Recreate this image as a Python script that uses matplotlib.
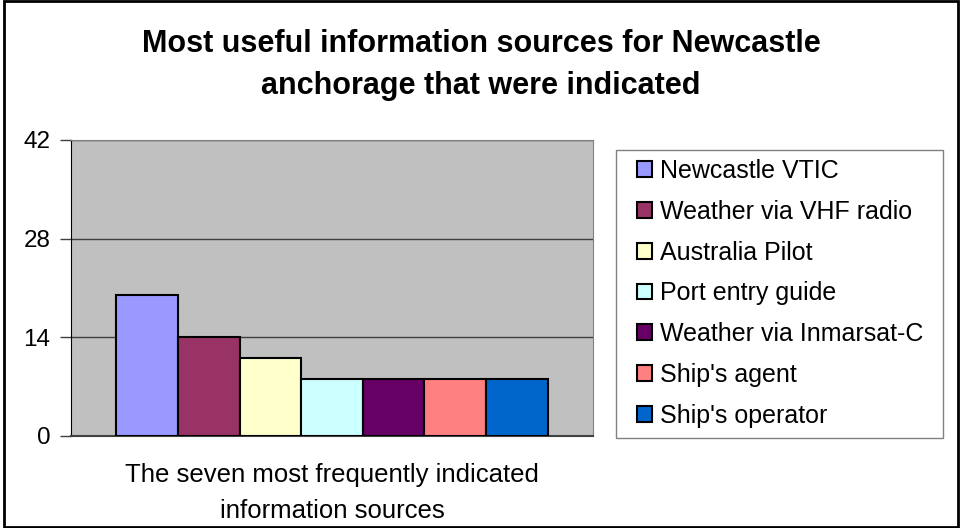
import matplotlib
matplotlib.use("Agg")
import matplotlib.pyplot as plt
from matplotlib.patches import Rectangle
import numpy as np

plt.rcParams['font.family'] = ['Liberation Sans', 'DejaVu Sans']

sources = ["Newcastle VTIC", "Weather via VHF radio", "Australia Pilot",
           "Port entry guide", "Weather via Inmarsat-C", "Ship's agent",
           "Ship's operator"]
counts = [20, 14, 11, 8, 8, 8, 8]
colors = ["#9999FF", "#993366", "#FFFFCC", "#CCFFFF", "#660066",
          "#FF8080", "#0066CC"]
y_ticks = [0, 14, 28, 42]

W, H = 960, 528
fig = plt.figure(figsize=(W / 100, H / 100), dpi=100)
# outer chart frame
fig.patches.append(Rectangle((0.004, 0.002), 0.994, 0.996, transform=fig.transFigure,
                             fill=False, edgecolor="black", linewidth=2))
# legend frame, drawn by hand so the box matches the reference
fig.patches.append(Rectangle((616 / W, 1 - 438 / H), 327 / W, 288 / H,
                             transform=fig.transFigure, fill=False,
                             edgecolor="#808080", linewidth=1))

ax = fig.add_axes([71 / W, 1 - 435.5 / H, 522 / W, 295.5 / H])
ax.set_facecolor("#C0C0C0")

width = 0.118
x = (np.arange(len(counts)) - (len(counts) - 1) / 2) * width
for xi, c, col, lab in zip(x, counts, colors, sources):
    ax.bar(xi, c, width=width, color=col, edgecolor="black", linewidth=1.5,
           label=lab, zorder=3)

ax.set_xlim(-0.5, 0.5)
ax.set_ylim(0, 42)
ax.set_yticks(y_ticks)
ax.set_yticklabels([str(t) for t in y_ticks], fontsize=17.5)
ax.set_xticks([])
ax.yaxis.grid(True, color="#404040", linewidth=1)
ax.tick_params(axis="y", length=8, width=1, color="#404040", pad=7)
for side in ["top", "right"]:
    ax.spines[side].set_color("#808080")
ax.spines["left"].set_color("black")
ax.spines["bottom"].set_color("#404040")
ax.spines["bottom"].set_linewidth(1.5)

ax.set_xlabel("The seven most frequently indicated\ninformation sources",
              fontsize=18.5, labelpad=20, linespacing=1.63)

fig.text(0.501, 0.877, "Most useful information sources for Newcastle\nanchorage that were indicated",
         ha="center", va="center", fontsize=22, fontweight="bold", linespacing=1.5)

leg = ax.legend(loc="upper left", bbox_to_anchor=(637 / W, 1 - 159 / H),
                bbox_transform=fig.transFigure, fontsize=18, frameon=False,
                handlelength=0.6, handleheight=0.6, handletextpad=0.33,
                labelspacing=0.67, borderpad=0, borderaxespad=0)

fig.savefig("out.png", dpi=100)
